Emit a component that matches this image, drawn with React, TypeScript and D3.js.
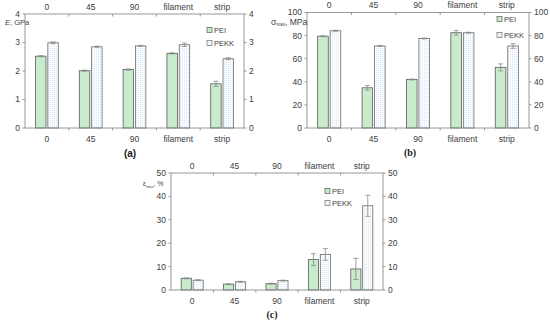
import React from "react";
import * as d3 from "d3";

const categories = ["0", "45", "90", "filament", "strip"];
const seriesNames = ["PEI", "PEKK"];

// (a) elastic modulus, GPa
const modulusPEI = [2.52, 2.01, 2.05, 2.62, 1.55];
const modulusPEKK = [2.99, 2.85, 2.88, 2.92, 2.43];
const modulusErrPEI = [0.02, 0.02, 0.02, 0.02, 0.09];
const modulusErrPEKK = [0.03, 0.02, 0.02, 0.06, 0.03];

// (b) strength, MPa
const strengthPEI = [79.5, 34.8, 42, 82.5, 52.5];
const strengthPEKK = [84.2, 71, 77.5, 82.5, 71];
const strengthErrPEI = [0.4, 2, 0.4, 2, 3];
const strengthErrPEKK = [0.4, 0.3, 0.4, 0.4, 2];

// (c) elongation, %
const elongPEI = [5, 2.5, 2.7, 13, 9];
const elongPEKK = [4.2, 3.5, 4, 15.2, 36];
const elongErrPEI = [0.2, 0.2, 0.2, 2.5, 4.5];
const elongErrPEKK = [0.2, 0.2, 0.2, 2.5, 4.5];

const font = "'Liberation Sans', Arial, sans-serif";
const axisColor = "#8c8c8c";
const textColor = "#404040";

type PanelProps = {
  left: number;
  right: number;
  top: number;
  bottom: number;
  yMax: number;
  yStep: number;
  pei: number[];
  pekk: number[];
  errPei: number[];
  errPekk: number[];
  title: string;
  sub?: string;
  unit?: string;
  titleX: number;
  titleY: number;
  titleSize: number;
  legendX: number;
  legendY: number[];
  label: string;
  labelX: number;
  labelY: number;
  labelFont: string;
};

const Panel = (p: PanelProps) => {
  const x = d3.scaleBand<string>().domain(categories).range([p.left, p.right]);
  const y = d3.scaleLinear().domain([0, p.yMax]).range([p.bottom, p.top]);
  const bw = x.bandwidth();
  const inner = d3
    .scaleBand<string>()
    .domain(seriesNames)
    .range([-bw * 0.26, bw * 0.26])
    .paddingInner(0.15);
  const ticks = d3.range(0, p.yMax + p.yStep / 2, p.yStep);
  const series = [
    { name: "PEI", vals: p.pei, errs: p.errPei, fill: "#c8ebcb", stroke: "#5a5a5a" },
    { name: "PEKK", vals: p.pekk, errs: p.errPekk, fill: "url(#dots)", stroke: "#6a6a6a" },
  ];
  const bounds = categories.slice(1).map((c) => x(c)!);

  return (
    <g fontFamily={font} fill={textColor}>
      {/* bars */}
      {series.map((s) =>
        categories.map((c, i) => (
          <rect
            key={s.name + c}
            x={x(c)! + bw / 2 + inner(s.name)!}
            y={y(s.vals[i])}
            width={inner.bandwidth()}
            height={y(0) - y(s.vals[i])}
            fill={s.fill}
            stroke={s.stroke}
            strokeWidth={0.8}
          />
        ))
      )}
      {/* error bars */}
      {series.map((s) =>
        categories.map((c, i) => {
          const cx = x(c)! + bw / 2 + inner(s.name)! + inner.bandwidth() / 2;
          const y1 = y(s.vals[i] + s.errs[i]);
          const y2 = y(s.vals[i] - s.errs[i]);
          return (
            <g key={"e" + s.name + c} stroke="#8a8a8a" strokeWidth={0.8}>
              <line x1={cx} x2={cx} y1={y1} y2={y2} />
              <line x1={cx - 2.5} x2={cx + 2.5} y1={y1} y2={y1} />
              <line x1={cx - 2.5} x2={cx + 2.5} y1={y2} y2={y2} />
            </g>
          );
        })
      )}
      {/* axes */}
      <g stroke={axisColor} strokeWidth={0.9}>
        <line x1={p.left} x2={p.right} y1={p.bottom} y2={p.bottom} />
        <line x1={p.left} x2={p.right} y1={p.top} y2={p.top} />
        <line x1={p.left} x2={p.left} y1={p.top} y2={p.bottom} />
        <line x1={p.right} x2={p.right} y1={p.top} y2={p.bottom} />
        {bounds.map((b) => (
          <g key={"b" + b}>
            <line x1={b} x2={b} y1={p.bottom} y2={p.bottom + 2.5} />
            <line x1={b} x2={b} y1={p.top} y2={p.top + 2.5} />
          </g>
        ))}
        {ticks.map((t) => (
          <g key={"t" + t}>
            <line x1={p.left - 2.5} x2={p.left} y1={y(t)} y2={y(t)} />
            <line x1={p.right} x2={p.right + 2.5} y1={y(t)} y2={y(t)} />
          </g>
        ))}
      </g>
      {ticks.map((t) => (
        <g key={"l" + t} fontSize={8.5}>
          <text x={p.left - 5} y={y(t)} dy="0.35em" textAnchor="end">
            {t}
          </text>
          <text x={p.right + 5} y={y(t)} dy="0.35em" textAnchor="start">
            {t}
          </text>
        </g>
      ))}
      {categories.map((c) => (
        <g key={"c" + c} fontSize={8.5} textAnchor="middle">
          <text x={x(c)! + bw / 2} y={p.bottom + 11} dy="0.35em">
            {c}
          </text>
          <text x={x(c)! + bw / 2} y={p.top - 7} dy="0.35em">
            {c}
          </text>
        </g>
      ))}
      {/* axis title */}
      <text x={p.titleX} y={p.titleY} fontSize={p.titleSize} dy="0.35em">
        <tspan fontStyle={p.sub ? "normal" : "italic"}>{p.title}</tspan>
        {p.sub && (
          <tspan fontSize={p.titleSize * 0.55} dy="0.3em">
            {p.sub}
          </tspan>
        )}
        <tspan dy={p.sub ? "-0.2em" : 0}>{p.unit}</tspan>
      </text>
      {/* legend */}
      {series.map((s, i) => (
        <g key={"lg" + s.name}>
          <rect
            x={p.legendX}
            y={p.legendY[i] - 2.5}
            width={5}
            height={5}
            fill={s.fill}
            stroke={s.stroke}
            strokeWidth={0.7}
          />
          <text x={p.legendX + 7} y={p.legendY[i]} dy="0.35em" fontSize={7.5}>
            {s.name}
          </text>
        </g>
      ))}
      <text
        x={p.labelX}
        y={p.labelY}
        dy="0.35em"
        textAnchor="middle"
        fontSize={10}
        fontWeight="bold"
        fontFamily={p.labelFont}
        fill="#222"
      >
        ({p.label})
      </text>
    </g>
  );
};

export default function App() {
  return (
    <svg
      width={550}
      height={325}
      style={{ position: "absolute", left: 0, top: 0, background: "#fff" }}
    >
      <defs>
        <pattern id="dots" width={2} height={2} patternUnits="userSpaceOnUse">
          <rect width={2} height={2} fill="#fbfdfe" />
          <rect width={1} height={1} fill="#d6e6f4" />
        </pattern>
      </defs>
      <Panel
        left={25}
        right={244}
        top={14}
        bottom={128}
        yMax={4}
        yStep={1}
        pei={modulusPEI}
        pekk={modulusPEKK}
        errPei={modulusErrPEI}
        errPekk={modulusErrPEKK}
        title="E"
        unit=", GPa"
        titleX={5}
        titleY={22}
        titleSize={7.5}
        legendX={207}
        legendY={[30, 43]}
        label="a"
        labelX={130}
        labelY={153}
        labelFont={font}
      />
      <Panel
        left={307}
        right={529}
        top={12.5}
        bottom={128}
        yMax={100}
        yStep={20}
        pei={strengthPEI}
        pekk={strengthPEKK}
        errPei={strengthErrPEI}
        errPekk={strengthErrPEKK}
        title="σ"
        sub="max"
        unit=", MPa"
        titleX={271}
        titleY={22}
        titleSize={8.5}
        legendX={497}
        legendY={[19, 35]}
        label="b"
        labelX={410}
        labelY={152}
        labelFont="'Liberation Serif', 'Times New Roman', serif"
      />
      <Panel
        left={171}
        right={383}
        top={173}
        bottom={290}
        yMax={50}
        yStep={10}
        pei={elongPEI}
        pekk={elongPEKK}
        errPei={elongErrPEI}
        errPekk={elongErrPEKK}
        title="ε"
        sub="max"
        unit=", %"
        titleX={143}
        titleY={184}
        titleSize={7}
        legendX={325}
        legendY={[191, 203]}
        label="c"
        labelX={272}
        labelY={314}
        labelFont="'Liberation Serif', 'Times New Roman', serif"
      />
    </svg>
  );
}
